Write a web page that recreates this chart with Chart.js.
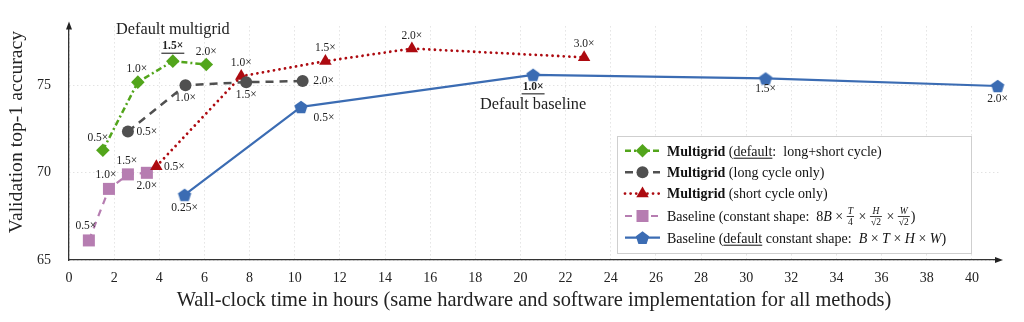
<!DOCTYPE html>
<html><head><meta charset="utf-8">
<script src="https://cdn.jsdelivr.net/npm/chart.js@4.4.1/dist/chart.umd.min.js"></script>
<style>html,body{margin:0;padding:0;background:#fff;}#wrap{width:1024px;height:322px;position:relative;}</style>
</head><body><div id="wrap"><canvas id="c"></canvas></div>
<script>
const xTicks = [0,2,4,6,8,10,12,14,16,18,20,22,24,26,28,30,32,34,36,38,40];
const yTicks = [65,70,75];
const mgDefaultX = [1.50,3.05,4.60,6.08];
const mgDefaultY = [71.28,75.18,76.38,76.19];
const mgDefaultLabels = ['0.5×','1.0×','1.5×','2.0×'];
const mgLongX = [2.61,5.16,7.85,10.35];
const mgLongY = [72.35,75.00,75.18,75.24];
const mgLongLabels = ['0.5×','1.0×','1.5×','2.0×'];
const mgShortX = [3.87,7.63,11.36,15.19,22.82];
const mgShortY = [70.36,75.52,76.38,77.10,76.60];
const mgShortLabels = ['0.5×','1.0×','1.5×','2.0×','3.0×'];
const baseConstX = [0.88,1.77,2.61,3.45];
const baseConstY = [66.12,69.07,69.90,69.99];
const baseConstLabels = ['0.5×','1.0×','1.5×','2.0×'];
const baseDefaultX = [5.12,10.28,20.56,30.86,41.14];
const baseDefaultY = [68.73,73.76,75.60,75.39,74.96];
const baseDefaultLabels = ['0.25×','0.5×','1.0×','1.5×','2.0×'];
const seriesNames = [
  'Multigrid (default: long+short cycle)',
  'Multigrid (long cycle only)',
  'Multigrid (short cycle only)',
  'Baseline (constant shape: 8B×T/4×H/√2×W/√2)',
  'Baseline (default constant shape: B×T×H×W)'
];

const SERIF = '"Liberation Serif", "DejaVu Serif", serif';
const C_GREEN = '#52a51b', C_GRAY = '#505050', C_RED = '#ad0a10', C_PINK = '#b67db1', C_BLUE = '#3b6cb3';

function pts(xs, ys){ return xs.map((x,i)=>({x:x, y:ys[i]})); }

function pentPath(g, cx, cy, r){
  g.beginPath();
  for (let k=0;k<5;k++){
    const a = -Math.PI/2 + k*2*Math.PI/5;
    const px = cx + r*Math.cos(a), py = cy + r*Math.sin(a);
    if (k===0) g.moveTo(px,py); else g.lineTo(px,py);
  }
  g.closePath();
}
function pentagonCanvas(r, color){
  const c = document.createElement('canvas');
  const s = Math.ceil(r*2+2);
  c.width = s; c.height = s;
  const g = c.getContext('2d');
  pentPath(g, s/2, s/2 + r*0.1, r);
  g.fillStyle = color; g.fill();
  return c;
}
const pentImg = pentagonCanvas(7, C_BLUE);

const datasets = [
  {label: seriesNames[0], data: pts(mgDefaultX, mgDefaultY), borderColor: C_GREEN, backgroundColor: C_GREEN,
   borderWidth: 2.5, borderDash: [6,3,2,3], pointStyle: 'rectRot', pointRadius: 6.8, pointBorderWidth: 0,
   marker:'diamond', labels: mgDefaultLabels,
   offsets: [[-5,-12],[-1,-13],[0,-15],[0,-13]], bold: [2]},
  {label: seriesNames[1], data: pts(mgLongX, mgLongY), borderColor: C_GRAY, backgroundColor: C_GRAY,
   borderWidth: 2.5, borderDash: [8,6], pointStyle: 'circle', pointRadius: 6, pointBorderWidth: 0,
   marker:'circle', labels: mgLongLabels,
   offsets: [[19,0],[0,13],[0,13],[21,0]], bold: []},
  {label: seriesNames[2], data: pts(mgShortX, mgShortY), borderColor: C_RED, backgroundColor: C_RED,
   borderWidth: 2.8, borderDash: [0.01,5.6], borderCapStyle: 'round', pointStyle: 'triangle', pointRadius: 7.2, pointBorderWidth: 0,
   marker:'triangle', labels: mgShortLabels,
   offsets: [[18,1],[0,-13],[0,-13],[0,-13],[0,-13]], bold: []},
  {label: seriesNames[3], data: pts(baseConstX, baseConstY), borderColor: C_PINK, backgroundColor: C_PINK,
   borderWidth: 2.2, borderDash: [7,6], pointStyle: 'rect', pointRadius: 8.5, pointBorderWidth: 0,
   marker:'square', labels: baseConstLabels,
   offsets: [[-3,-14],[-3,-14],[-1,-13],[0,13]], bold: []},
  {label: seriesNames[4], data: pts(baseDefaultX, baseDefaultY), borderColor: C_BLUE, backgroundColor: C_BLUE,
   borderWidth: 2.2, pointStyle: pentImg, pointRadius: 7, pointBorderWidth: 0,
   marker:'pentagon', labels: baseDefaultLabels,
   offsets: [[0,13],[23,11],[0,12],[0,11],[0,13]], bold: [2]}
];
datasets.forEach(d=>{ d.fill=false; d.tension=0; d.clip=false; d.pointHoverRadius=d.pointRadius; });

function drawMarker(g, type, x, y, color){
  g.save(); g.fillStyle = color; g.beginPath();
  if (type==='diamond'){ g.moveTo(x,y-6.8); g.lineTo(x+6.8,y); g.lineTo(x,y+6.8); g.lineTo(x-6.8,y); g.closePath(); }
  else if (type==='circle'){ g.arc(x,y,6,0,Math.PI*2); }
  else if (type==='triangle'){ const r=7.2; g.moveTo(x,y-r); g.lineTo(x+r*0.866,y+r/2); g.lineTo(x-r*0.866,y+r/2); g.closePath(); }
  else if (type==='square'){ g.rect(x-6,y-6,12,12); }
  else if (type==='pentagon'){ pentPath(g,x,y+0.6,7); }
  g.fill(); g.restore();
}

function richText(g, x, y, segs, size){
  for (const s of segs){
    if (s.frac){
      const fs = size*0.68;
      g.font = 'italic ' + fs + 'px ' + SERIF;
      const wn = g.measureText(s.frac[0]).width;
      g.font = fs + 'px ' + SERIF;
      const wd = g.measureText(s.frac[1]).width;
      const w = Math.max(wn, wd) + 2;
      g.font = 'italic ' + fs + 'px ' + SERIF;
      g.fillText(s.frac[0], x + (w-wn)/2, y - 6.5);
      g.font = fs + 'px ' + SERIF;
      g.fillText(s.frac[1], x + (w-wd)/2, y + 4.5);
      g.fillRect(x, y - 4.6, w, 0.8);
      x += w + 1;
      continue;
    }
    g.font = (s.i?'italic ':'') + (s.b?'bold ':'') + size + 'px ' + SERIF;
    g.fillText(s.t, x, y);
    const w = g.measureText(s.t).width;
    if (s.u) g.fillRect(x, y + 2.2, w, 1);
    x += w;
  }
  return x;
}

const legendRows = [
  [{t:'Multigrid',b:1},{t:' ('},{t:'default',u:1},{t:':  long+short cycle)'}],
  [{t:'Multigrid',b:1},{t:' (long cycle only)'}],
  [{t:'Multigrid',b:1},{t:' (short cycle only)'}],
  [{t:'Baseline (constant shape:  8'},{t:'B',i:1},{t:' × '},{frac:['T','4']},{t:' × '},{frac:['H','√2']},{t:' × '},{frac:['W','√2']},{t:')'}],
  [{t:'Baseline ('},{t:'default',u:1},{t:' constant shape:  '},{t:'B',i:1},{t:' × '},{t:'T',i:1},{t:' × '},{t:'H',i:1},{t:' × '},{t:'W',i:1},{t:')'}]
];

const overlay = {
  id: 'overlay',
  afterDatasetsDraw(chart){
    const g = chart.ctx, ca = chart.chartArea;
    g.save();
    g.fillStyle = '#222';
    g.beginPath(); g.moveTo(ca.left, ca.top-5); g.lineTo(ca.left-3, ca.top+3); g.lineTo(ca.left+3, ca.top+3); g.closePath(); g.fill();
    g.beginPath(); g.moveTo(ca.right+4, ca.bottom); g.lineTo(ca.right-4, ca.bottom-3); g.lineTo(ca.right-4, ca.bottom+3); g.closePath(); g.fill();
    g.fillStyle = '#222'; g.textAlign = 'center'; g.textBaseline = 'middle';
    chart.data.datasets.forEach((d, di)=>{
      const meta = chart.getDatasetMeta(di);
      meta.data.forEach((p, i)=>{
        const o = d.offsets[i];
        const bold = d.bold.indexOf(i) >= 0;
        g.font = (bold?'bold ':'') + '11.5px ' + SERIF;
        const tx = p.x + o[0], ty = p.y + o[1];
        g.fillText(d.labels[i], tx, ty);
        if (bold){ const w = g.measureText(d.labels[i]).width; g.fillRect(tx - w/2 - 1, ty + 6.5, w + 2, 1.1); }
      });
    });
    g.font = '16.3px ' + SERIF;
    const xs = chart.scales.x, ys = chart.scales.y;
    g.fillText('Default multigrid', xs.getPixelForValue(mgDefaultX[2]), ys.getPixelForValue(mgDefaultY[2]) - 31);
    g.fillText('Default baseline', xs.getPixelForValue(baseDefaultX[2]), ys.getPixelForValue(baseDefaultY[2]) + 30);
    g.font = '20.4px ' + SERIF;
    g.fillText('Wall-clock time in hours (same hardware and software implementation for all methods)', (ca.left+ca.right)/2, 301);
    g.save(); g.translate(17, 132); g.rotate(-Math.PI/2);
    g.font = '19.7px ' + SERIF;
    g.fillText('Validation top-1 accuracy', 0, 0); g.restore();
    const bx = 617, by = 136, bw = 354, bh = 117;
    g.fillStyle = '#fff'; g.fillRect(bx, by, bw, bh);
    g.strokeStyle = '#cfcfcf'; g.lineWidth = 1; g.strokeRect(bx+0.5, by+0.5, bw, bh);
    const rowsY = [150.7, 172.3, 193.6, 216, 237.7];
    g.textAlign = 'left'; g.textBaseline = 'alphabetic';
    chart.data.datasets.forEach((d, di)=>{
      const y = rowsY[di];
      g.save();
      g.strokeStyle = d.borderColor; g.lineWidth = d.borderWidth;
      g.setLineDash(d.borderDash || []); g.lineCap = d.borderCapStyle || 'butt';
      g.beginPath(); g.moveTo(625, y); g.lineTo(660, y); g.stroke();
      g.restore();
      drawMarker(g, d.marker, 642.5, y, d.backgroundColor);
      g.fillStyle = '#111';
      richText(g, 667, y + 4.8, legendRows[di], 14);
    });
    g.restore();
  }
};

new Chart(document.getElementById('c'), {
  type: 'line',
  data: { datasets: datasets },
  options: {
    responsive: true, maintainAspectRatio: false, animation: false,
    layout: { padding: { top: 18, right: 25, left: 0, bottom: 0 } },
    plugins: { legend: { display: false }, tooltip: { enabled: false } },
    elements: { line: { borderJoinStyle: 'round' } },
    scales: {
      x: {
        type: 'linear', min: 0, max: 41.2,
        afterBuildTicks: s => { s.ticks = xTicks.map(v => ({value: v})); },
        afterFit: s => { s.height = 62; },
        ticks: { font: { family: SERIF, size: 14 }, color: '#222', padding: 10, maxRotation: 0, autoSkip: false },
        grid: { color: '#d6d6d6', drawTicks: false, lineWidth: 1 },
        border: { color: '#333', width: 1.3, dash: [1,3] }
      },
      y: {
        type: 'linear', min: 65, max: 78.37,
        afterBuildTicks: s => { s.ticks = yTicks.map(v => ({value: v})); },
        afterFit: s => { s.width = 69; },
        ticks: { font: { family: SERIF, size: 14 }, color: '#222', padding: 18 },
        grid: { color: '#d6d6d6', drawTicks: false, lineWidth: 1 },
        border: { color: '#333', width: 1.3, dash: [1,3] }
      }
    }
  },
  plugins: [overlay]
});
</script></body></html>
